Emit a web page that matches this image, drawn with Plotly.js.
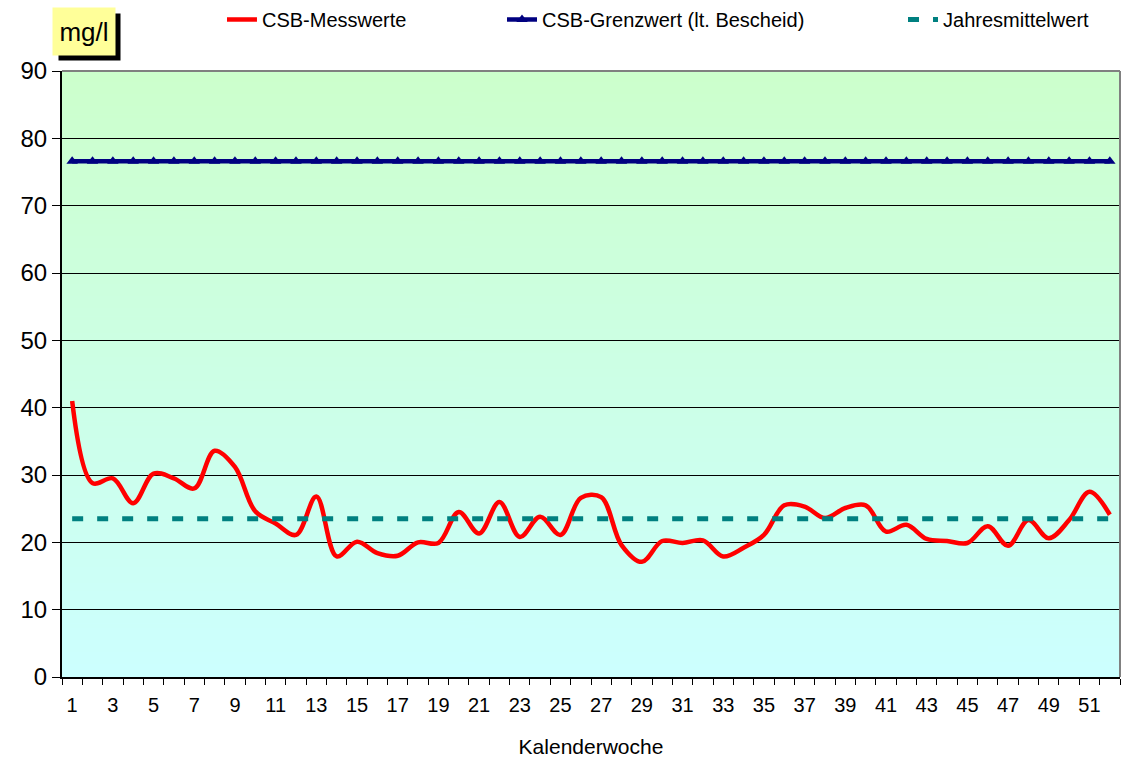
<!DOCTYPE html>
<html>
<head>
<meta charset="utf-8">
<script src="https://cdn.plot.ly/plotly-3.0.1.min.js"></script>
<style>
  html, body { margin: 0; padding: 0; background: #fff; }
  #chart { width: 1124px; height: 760px; }
</style>
</head>
<body>
<div id="chart"></div>
<script>
// Kalenderwochen 1..52
const weeks = [1, 2, 3, 4, 5, 6, 7, 8, 9, 10, 11, 12, 13, 14, 15, 16, 17, 18, 19, 20,
    21, 22, 23, 24, 25, 26, 27, 28, 29, 30, 31, 32, 33, 34, 35, 36, 37, 38, 39, 40,
    41, 42, 43, 44, 45, 46, 47, 48, 49, 50, 51, 52];

const csbValues = [41.0, 28.8, 29.5, 25.8, 30.2, 29.5, 28.0, 33.6, 31.2, 24.6,
    22.8, 21.1, 26.8, 17.9, 20.1, 18.4, 18.0, 20.0, 19.9, 24.5,
    21.3, 26.0, 20.8, 23.8, 21.1, 26.6, 26.7, 19.6, 17.1, 20.2,
    19.9, 20.3, 17.9, 19.2, 21.1, 25.5, 25.3, 23.6, 25.1, 25.5,
    21.6, 22.6, 20.5, 20.2, 19.9, 22.4, 19.5, 23.3, 20.6, 23.3,
    27.5, 24.1];

// Grenzwert lt. Bescheid und Jahresmittel
const limitValues = weeks.map(() => 76.6);
const meanValues = weeks.map(() => 23.5);

const xTickVals = [1, 3, 5, 7, 9, 11, 13, 15, 17, 19, 21, 23, 25, 27, 29, 31, 33, 35,
    37, 39, 41, 43, 45, 47, 49, 51];
const yTickVals = [0, 10, 20, 30, 40, 50, 60, 70, 80, 90];

const FONT = "Liberation Sans, Arial, sans-serif";

// Verlaufshintergrund (grün oben -> türkis unten)
function gradientImage() {
    const c = document.createElement("canvas");
    c.width = 4;
    c.height = 300;
    const ctx = c.getContext("2d");
    const g = ctx.createLinearGradient(0, 0, 0, 300);
    g.addColorStop(0, "#CCFFCC");
    g.addColorStop(1, "#CCFFFF");
    ctx.fillStyle = g;
    ctx.fillRect(0, 0, 4, 300);
    return c.toDataURL("image/png");
}

const traces = [
    {
        x: weeks, y: csbValues, name: "CSB-Messwerte",
        type: "scatter", mode: "lines",
        line: {color: "#FF0000", width: 4.5, shape: "spline", smoothing: 1},
        legend: "legend"
    },
    {
        x: weeks, y: limitValues, name: "CSB-Grenzwert (lt. Bescheid)",
        type: "scatter", mode: "lines+markers",
        line: {color: "#000080", width: 4.5},
        marker: {symbol: "triangle-up", size: 10, color: "#000080"},
        legend: "legend2"
    },
    {
        x: weeks, y: meanValues, name: "Jahresmittelwert",
        type: "scatter", mode: "lines",
        line: {color: "#008080", width: 5, dash: "11px,14px"},
        legend: "legend3"
    }
];

const legendBase = {
    orientation: "h", yanchor: "middle", y: 1.085, xanchor: "left",
    bgcolor: "rgba(0,0,0,0)", font: {family: FONT, size: 20, color: "#000"}
};

const boxX = 0.0208;
const boxY = 1.0652;

const layout = {
    width: 1124, height: 760,
    margin: {l: 62, r: 4, t: 71, b: 83, autoexpand: false},
    paper_bgcolor: "#FFFFFF",
    plot_bgcolor: "#CCFFFF",
    font: {family: FONT, color: "#000"},
    showlegend: true,
    legend: {...legendBase, x: 0.1512},
    legend2: {...legendBase, x: 0.4159},
    legend3: {...legendBase, x: 0.7949},
    xaxis: {
        range: [0.5, 52.5],
        tickmode: "array", tickvals: xTickVals, ticktext: xTickVals.map(String),
        ticks: "", showgrid: false, zeroline: false,
        showline: true, linecolor: "#000", linewidth: 2,
        tickfont: {family: FONT, size: 20},
        ticklabelstandoff: 9,
        minor: {tick0: 0.5, dtick: 1, ticks: "outside", ticklen: 6, tickcolor: "#000", showgrid: false},
        title: {text: "Kalenderwoche", font: {family: FONT, size: 21}, standoff: 24}
    },
    yaxis: {
        range: [0, 90],
        tickmode: "array", tickvals: yTickVals,
        ticks: "outside", ticklen: 8, tickcolor: "#000",
        showgrid: true, gridcolor: "#000", gridwidth: 1,
        zeroline: false, showline: true, linecolor: "#000", linewidth: 2,
        tickfont: {family: FONT, size: 24}
    },
    images: [{
        source: gradientImage(), xref: "paper", yref: "paper",
        x: 0, y: 1, sizex: 1, sizey: 1, xanchor: "left", yanchor: "top",
        sizing: "stretch", layer: "below"
    }],
    shapes: [
        // grauer Rahmen oben und rechts
        {type: "line", xref: "paper", yref: "paper", x0: 0, x1: 1, y0: 1, y1: 1, line: {color: "#808080", width: 2}},
        {type: "line", xref: "paper", yref: "paper", x0: 1, x1: 1, y0: 0, y1: 1, line: {color: "#808080", width: 2}},
        // Schatten der Einheitenbox
        {
            type: "rect", xref: "paper", yref: "paper",
            xsizemode: "pixel", ysizemode: "pixel", xanchor: boxX, yanchor: boxY,
            x0: -25.5, x1: 36.5, y0: -29, y1: 18,
            fillcolor: "#000000", line: {width: 0}, layer: "above"
        }
    ],
    annotations: [
        {
            text: "mg/l", xref: "paper", yref: "paper", x: boxX, y: boxY,
            xanchor: "center", yanchor: "middle", showarrow: false,
            width: 62, height: 47, borderpad: 0,
            bgcolor: "#FFFF99", font: {family: FONT, size: 26, color: "#000"}
        }
    ]
};

Plotly.newPlot("chart", traces, layout, {staticPlot: true, displayModeBar: false});
</script>
</body>
</html>
